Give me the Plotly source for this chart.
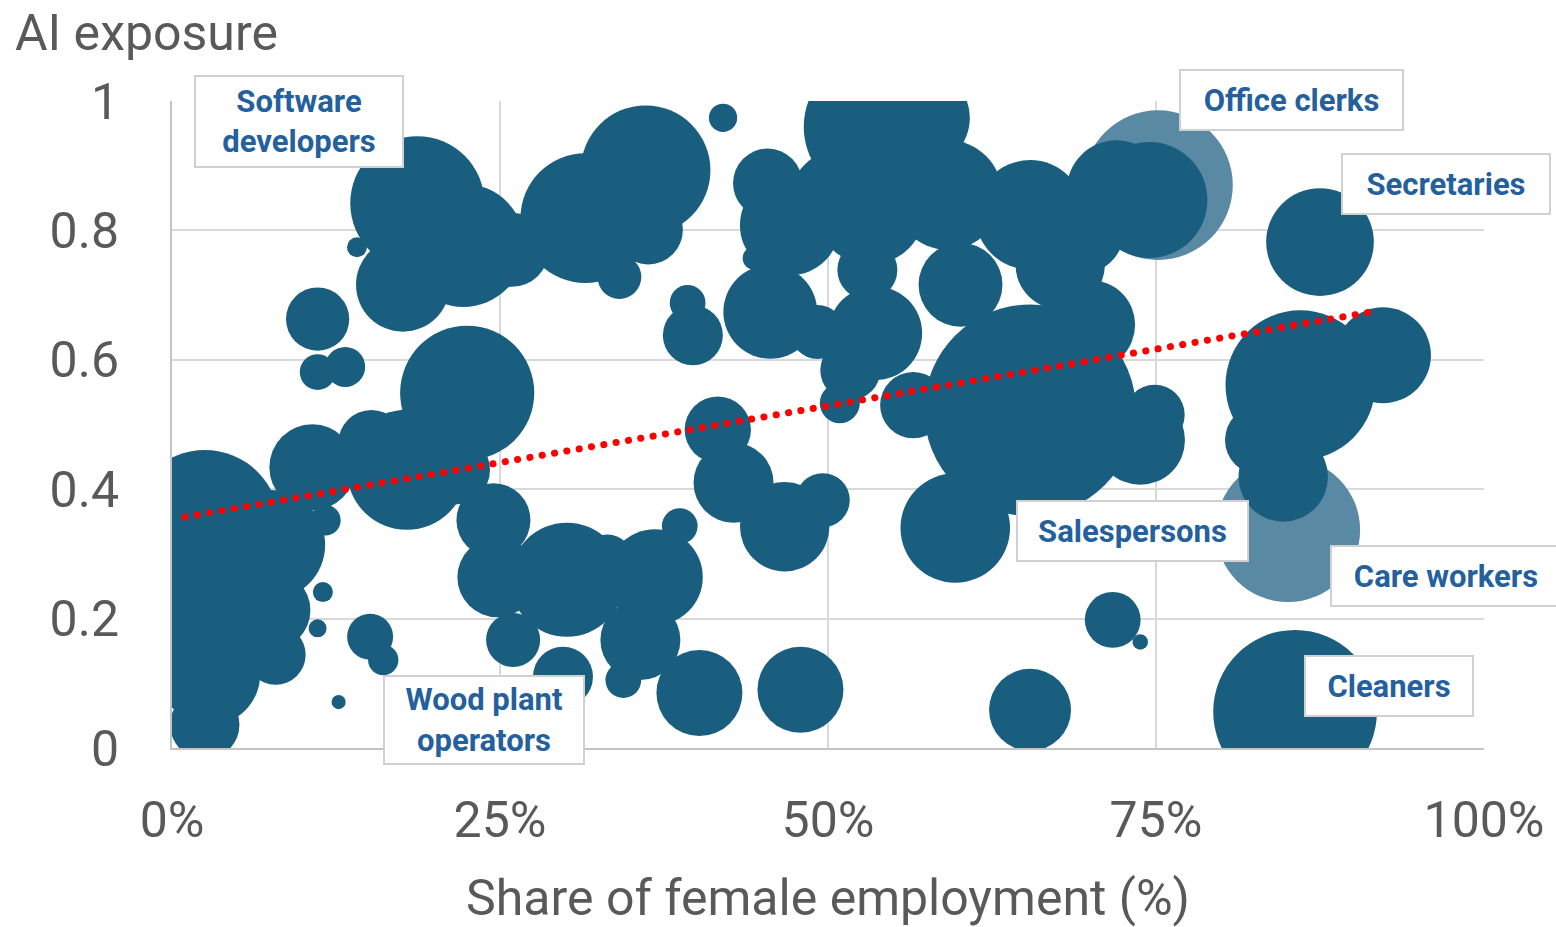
import plotly.graph_objects as go

# ---- data ----
# share of female employment (0-1), AI exposure (0-1), employment (relative units)
female_share = [
    0.025, 0.075, 0.117, 0.075, 0.079, 0.021, 0.029, 0.025, 0.107, 0.152,
    0.179, 0.216, 0.115, 0.111, 0.151, 0.161, 0.127, 0.044,
    0.111, 0.111, 0.132, 0.187, 0.222, 0.176, 0.141, 0.259, 0.225,
    0.315, 0.361, 0.363, 0.341, 0.393, 0.397, 0.420,
    0.245, 0.248, 0.301, 0.332, 0.368, 0.387, 0.260, 0.298, 0.357, 0.344,
    0.402, 0.479, 0.416, 0.428, 0.467, 0.496,
    0.454, 0.471, 0.444, 0.456, 0.492, 0.537, 0.570, 0.591, 0.601, 0.536,
    0.530, 0.517, 0.509, 0.565, 0.509, 0.654, 0.677, 0.700, 0.532,
    0.720, 0.745, 0.692, 0.654, 0.738, 0.749, 0.597, 0.717, 0.738, 0.654,
    0.875, 0.923, 0.860, 0.829, 0.847, 0.856,
]
ai_exposure = [
    0.345, 0.314, 0.352, 0.213, 0.144, 0.198, 0.113, 0.036, 0.434, 0.471,
    0.430, 0.430, 0.241, 0.185, 0.172, 0.136, 0.071, 0.244,
    0.663, 0.581, 0.589, 0.842, 0.777, 0.716, 0.774, 0.770, 0.549,
    0.819, 0.893, 0.801, 0.728, 0.688, 0.638, 0.974,
    0.352, 0.264, 0.260, 0.291, 0.264, 0.343, 0.167, 0.110, 0.167, 0.105,
    0.085, 0.090, 0.492, 0.410, 0.342, 0.383,
    0.873, 0.808, 0.757, 0.674, 0.643, 0.960, 0.974, 0.855, 0.716, 0.641,
    0.739, 0.584, 0.533, 0.530, 0.847, 0.824, 0.747, 0.654, 0.832,
    0.862, 0.847, 0.801, 0.522, 0.476, 0.515, 0.340, 0.198, 0.164, 0.059,
    0.782, 0.607, 0.561, 0.476, 0.419, 0.056,
]
employment = [
    56, 30, 2.3, 16, 9, 16, 25, 12, 18.5, 11,
    36, 12, 1, 0.8, 5.3, 2.3, 0.5, 20,
    10, 3.2, 4, 45, 38, 22, 1, 13.7, 45,
    42, 42, 12, 4.8, 3.2, 9, 2,
    13.7, 16, 32.5, 6.3, 23, 3.2, 7.3, 9, 16, 3.2,
    18.5, 18.5, 11, 16, 20, 7.3,
    12, 25, 1.4, 22, 7.3, 53, 25, 30, 17.6, 22,
    9, 9, 4, 11, 25, 30, 20, 20, 30,
    25, 33.6, 20, 112, 20, 9, 30, 7.8, 0.6, 16.8,
    29, 23, 56, 12, 20, 67,
]

# highlighted occupations (lighter bubbles)
hl_names = ["Office clerks", "Care workers"]
hl_share = [0.7515, 0.8506]
hl_exposure = [0.870, 0.337]
hl_employment = [56, 52]

# linear trend line
trend_x = [0.0099, 0.917]
trend_y = [0.357, 0.675]

# callout labels
labels = ["Software<br>developers", "Office clerks", "Secretaries", "Salespersons",
          "Care workers", "Cleaners", "Wood plant<br>operators"]

x_ticks = [0, 0.25, 0.5, 0.75, 1.0]
y_ticks = [0, 0.2, 0.4, 0.6, 0.8, 1.0]
y_ticktext = ["0", "0.2", "0.4", "0.6", "0.8", "1"]

# ---- styling ----
DARK = "#1A5E7F"
LIGHT = "#5A89A4"
GREY_TEXT = "#595959"
LABEL_BLUE = "#245F9E"
SIZEREF = 0.005

fig = go.Figure()
fig.add_trace(go.Scatter(
    x=hl_share, y=hl_exposure, mode="markers", text=hl_names,
    marker=dict(size=hl_employment, sizemode="area", sizeref=SIZEREF,
                color=LIGHT, line=dict(width=0), opacity=1),
    hoverinfo="text", cliponaxis=True,
))
fig.add_trace(go.Scatter(
    x=female_share, y=ai_exposure, mode="markers",
    marker=dict(size=employment, sizemode="area", sizeref=SIZEREF,
                color=DARK, line=dict(width=0), opacity=1),
    cliponaxis=True,
))
fig.add_trace(go.Scatter(
    x=trend_x, y=trend_y, mode="lines",
    line=dict(color="#FF0000", width=6.5, dash="6.5px,6px"),
    hoverinfo="skip",
))

# label box placements (paper coords of the plot area) and box sizes in px
label_pos = [(0.0968, 0.968, 206, 89), (0.853, 1.0015, 221, 58), (0.971, 0.872, 206, 58),
             (0.732, 0.3354, 229, 58), (0.971, 0.266, 228, 58), (0.9276, 0.0958, 166, 58),
             (0.2378, 0.0433, 198, 86)]
for txt, (ax_, ay_, w, h) in zip(labels, label_pos):
    fig.add_annotation(
        text=txt, xref="paper", yref="paper", x=ax_, y=ay_,
        xanchor="center", yanchor="middle", showarrow=False,
        font=dict(family="Roboto", size=31, color=LABEL_BLUE, weight="bold"),
        bgcolor="white", bordercolor="#D0D0D0", borderwidth=2, borderpad=0,
        width=w, height=h, align="center",
    )

fig.update_layout(
    width=1556, height=927,
    margin=dict(l=172, r=72, t=101, b=179),
    plot_bgcolor="white", paper_bgcolor="white",
    showlegend=False,
    font=dict(family="Roboto", color=GREY_TEXT),
    title=dict(text="AI exposure", x=15 / 1556, xref="container", xanchor="left",
               y=1 - 32 / 927, yref="container", yanchor="middle",
               font=dict(family="Roboto", size=50, color=GREY_TEXT)),
)
fig.update_xaxes(
    range=[0, 1], tickvals=x_ticks, tickformat=".0%",
    showgrid=True, gridcolor="#D9D9D9", gridwidth=2,
    showline=True, linecolor="#C4C4C4", linewidth=2,
    zeroline=False, ticks="", ticklabelstandoff=27,
    tickfont=dict(family="Roboto", size=50, color=GREY_TEXT),
    title=dict(text="Share of female employment (%)", standoff=33,
               font=dict(family="Roboto", size=50, color=GREY_TEXT)),
    automargin=False,
)
fig.update_yaxes(
    range=[0, 1], tickvals=y_ticks, ticktext=y_ticktext,
    showgrid=True, gridcolor="#D9D9D9", gridwidth=2,
    showline=True, linecolor="#C4C4C4", linewidth=2,
    zeroline=False, ticks="", ticklabelstandoff=41,
    tickfont=dict(family="Roboto", size=50, color=GREY_TEXT),
    automargin=False,
)

post_js = """
document.body.style.margin='0';
document.body.style.overflow='hidden';
try {
  var gd = document.getElementById('{plot_id}');
  var traces = gd.querySelectorAll('.scatterlayer .trace');
  var tr = traces[traces.length - 1];
  tr.querySelectorAll('path.js-line').forEach(function(p){
    p.style.strokeLinecap = 'round';
    p.style.strokeWidth = '7px';
    p.style.strokeDasharray = '0.1px,12.4px';
  });
} catch (e) {}
"""
fig.write_html("out.html", config={"displayModeBar": False}, post_script=post_js)
